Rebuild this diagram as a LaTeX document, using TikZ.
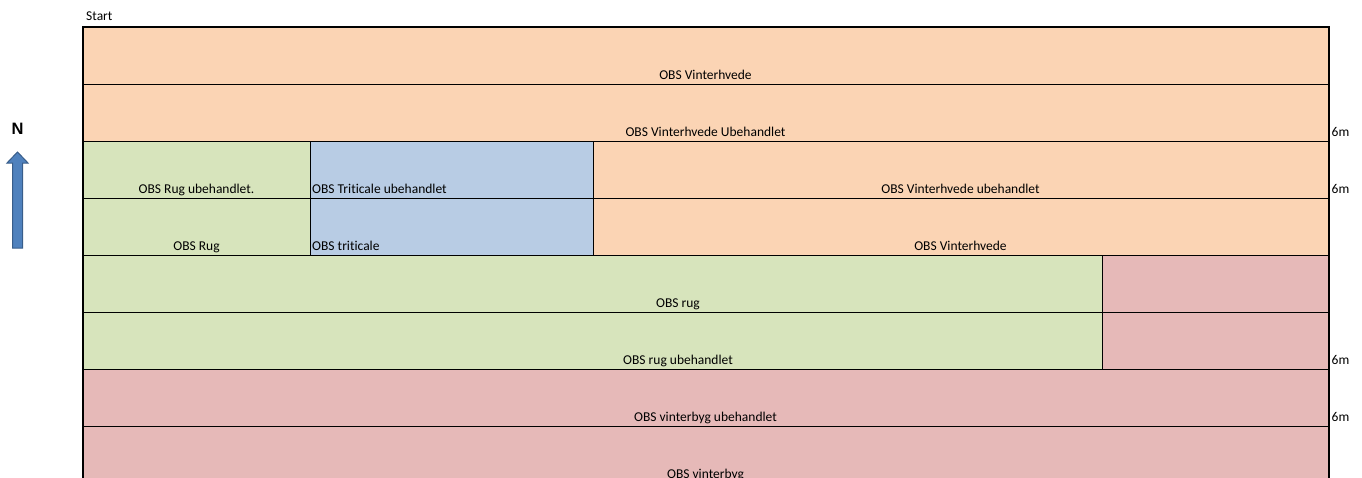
\documentclass[tikz,border=0pt]{standalone}
\usepackage{fontspec}
\setmainfont{Carlito}[Ligatures=NoCommon]
\newfontfamily\arialbold{Liberation Sans}
\definecolor{org}{HTML}{FBD4B4}
\definecolor{grn}{HTML}{D7E4BC}
\definecolor{blu}{HTML}{B8CCE4}
\definecolor{red}{HTML}{E6B9B8}
\definecolor{arrfill}{HTML}{4F81BD}
\definecolor{arrdraw}{HTML}{385D8A}
\tikzset{
  cell/.style={draw=black, line width=1pt, rectangle, inner sep=0pt, anchor=north west},
  lbl/.style={anchor=base, inner sep=0pt, font=\fontsize{13.5}{15}\selectfont},
  lbll/.style={anchor=base west, inner sep=0pt, font=\fontsize{13.5}{15}\selectfont},
}
\begin{document}
\begin{tikzpicture}[x=1pt,y=-1pt]
\useasboundingbox (0,0) rectangle (1362,477);
\begin{scope}
\clip (0,0) rectangle (1362,477);
% rows
\node[cell, fill=org, minimum width=1245pt, minimum height=57pt] (r1) at (83,27) {};
\node[cell, fill=org, minimum width=1245pt, minimum height=57pt] (r2) at (83,84) {};
\node[cell, fill=grn, minimum width=227pt, minimum height=57pt] (r3a) at (83,141) {};
\node[cell, fill=blu, minimum width=283pt, minimum height=57pt] (r3b) at (310,141) {};
\node[cell, fill=org, minimum width=735pt, minimum height=57pt] (r3c) at (593,141) {};
\node[cell, fill=grn, minimum width=227pt, minimum height=57pt] (r4a) at (83,198) {};
\node[cell, fill=blu, minimum width=283pt, minimum height=57pt] (r4b) at (310,198) {};
\node[cell, fill=org, minimum width=735pt, minimum height=57pt] (r4c) at (593,198) {};
\node[cell, fill=grn, minimum width=1019pt, minimum height=57pt] (r5a) at (83,255) {};
\node[cell, fill=red, minimum width=226pt, minimum height=57pt] (r5b) at (1102,255) {};
\node[cell, fill=grn, minimum width=1019pt, minimum height=57pt] (r6a) at (83,312) {};
\node[cell, fill=red, minimum width=226pt, minimum height=57pt] (r6b) at (1102,312) {};
\node[cell, fill=red, minimum width=1245pt, minimum height=57pt] (r7) at (83,369) {};
\node[cell, fill=red, minimum width=1245pt, minimum height=57pt] (r8) at (83,426) {};
% outer border
\draw[line width=2.2pt] (r8.south west) -- (r1.north west) -- (r1.north east) -- (r8.south east);
% labels
\node[lbl] (t1) at (705.5,79.5) {OBS Vinterhvede};
\node[lbl] (t2) at (705.5,136.5) {OBS Vinterhvede Ubehandlet};
\node[lbl] (t3a) at (196.5,193.5) {OBS Rug ubehandlet.};
\node[lbll] (t3b) at (312,193.5) {OBS Triticale ubehandlet};
\node[lbl] (t3c) at (960.5,193.5) {OBS Vinterhvede ubehandlet};
\node[lbl] (t4a) at (196.5,250.5) {OBS Rug};
\node[lbll] (t4b) at (312,250.5) {OBS triticale};
\node[lbl] (t4c) at (960.5,250.5) {OBS Vinterhvede};
\node[lbl] (t5) at (678,307.5) {OBS rug};
\node[lbl] (t6) at (678,364.5) {OBS rug ubehandlet};
\node[lbl] (t7) at (705.5,421.5) {OBS vinterbyg ubehandlet};
\node[lbl] (t8) at (705.5,478.5) {OBS vinterbyg};
\end{scope}
% side labels
\node[lbll] (s2) at (1331.5,136.5) {6m};
\node[lbll] (s3) at (1331.5,193.5) {6m};
\node[lbll] (s6) at (1331.5,364.5) {6m};
\node[lbll] (s7) at (1331.5,421.5) {6m};
\node[lbll] (start) at (86,20.5) {Start};
\node[anchor=base, inner sep=0pt, font=\fontsize{16.5}{18}\arialbold\bfseries] (north) at (17.5,134.7) {N};
% north arrow
\draw[fill=arrfill, draw=arrdraw, line width=1pt]
  (12.5,248) -- (12.5,163) -- (7,163) -- (17.5,152) -- (28,163) -- (22.5,163) -- (22.5,248) -- cycle;
\end{tikzpicture}
\end{document}
